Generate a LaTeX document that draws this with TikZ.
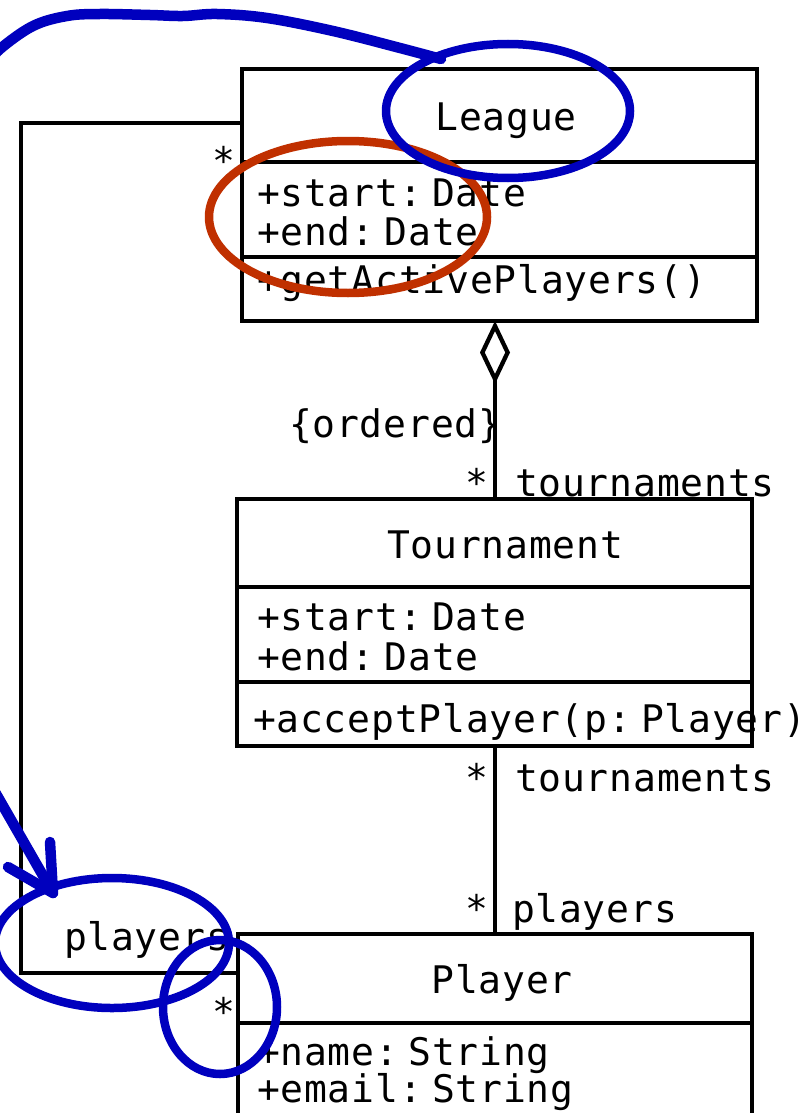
\documentclass[tikz,border=0pt]{standalone}
\usepackage{fontspec}
\usetikzlibrary{arrows.meta}
\newfontfamily\umlfont[LetterSpace=2.1,WordSpace=0.1]{DejaVu Sans Mono}
\definecolor{penblue}{RGB}{0,0,190}
\definecolor{penred}{RGB}{192,48,0}

\begin{document}
\begin{tikzpicture}[x=1pt,y=-1pt,
  part/.style={draw=black, line width=4.3pt, anchor=north west, inner sep=0pt, outer sep=0pt},
  txt/.style={inner sep=0pt, outer sep=0pt, font={\umlfont\fontsize{38}{44}\selectfont}},
  assoc/.style={draw=black, line width=4.3pt},
  ink/.style={line width=8.5pt, line cap=round, line join=round},
  stroke/.style={line width=10.5pt, line cap=round, line join=round},
]
\useasboundingbox (0,0) rectangle (805,1113);
\clip (0,0) rectangle (805,1113);
\fill[white] (0,0) rectangle (805,1113);

% ---- class League ----
\node[part, minimum width=515pt, minimum height=93pt] (leagueT) at (242,69) {};
\node[part, minimum width=515pt, minimum height=95pt] (leagueA) at (242,162) {};
\node[part, minimum width=515pt, minimum height=64pt] (leagueO) at (242,257) {};
\node[txt, anchor=base] (leagueName) at (506,131) {League};
\node[txt, anchor=base west] (leagueStart) at (257,206) {+start: Date};
\node[txt, anchor=base west] (leagueEnd) at (257,245) {+end: Date};
\node[txt, anchor=base west] (leagueOp) at (257,293) {+getActivePlayers()};

% ---- class Tournament ----
\node[part, minimum width=515pt, minimum height=88pt] (tourT) at (237,499) {};
\node[part, minimum width=515pt, minimum height=95pt] (tourA) at (237,587) {};
\node[part, minimum width=515pt, minimum height=64pt] (tourO) at (237,682) {};
\node[txt, anchor=base] (tourName) at (505,558) {Tournament};
\node[txt, anchor=base west] (tourStart) at (257,630) {+start: Date};
\node[txt, anchor=base west] (tourEnd) at (257,670) {+end: Date};
\node[txt, anchor=base west] (tourOp) at (253,732) {+acceptPlayer(p: Player)};

% ---- class Player ----
\node[part, minimum width=514pt, minimum height=89pt] (playerT) at (238,934) {};
\node[part, minimum width=514pt, minimum height=130pt] (playerA) at (238,1023) {};
\node[txt, anchor=base] (playerName) at (502,993) {Player};
\node[txt, anchor=base west] (playerNameAttr) at (257,1065) {+name: String};
\node[txt, anchor=base west] (playerEmail) at (257,1102) {+email: String};

% ---- associations ----
\coordinate (selfTop) at (21,123);
\coordinate (selfBot) at (21,973);
\coordinate (axis) at (495,0);
\draw[assoc] (leagueT.west |- selfTop) -- (selfTop) -- (selfBot) -- (playerT.west |- selfBot);
\draw[assoc, {Diamond[open,length=63pt,width=30pt]}-] (leagueO.south -| axis) -- (tourT.north -| axis);
\draw[assoc] (tourO.south -| axis) -- (playerT.north -| axis);

% ---- association ends ----
\node[txt, anchor=base west] (ordered) at (289,437) {\{ordered\}};
\node[txt, anchor=base] (multA) at (477,496) {*};
\node[txt, anchor=base west] (roleA) at (515,496) {tournaments};
\node[txt, anchor=base] (multB) at (477,791) {*};
\node[txt, anchor=base west] (roleB) at (515,791) {tournaments};
\node[txt, anchor=base] (multC) at (477,922) {*};
\node[txt, anchor=base west] (roleC) at (512,922) {players};
\node[txt, anchor=base] (multD) at (224,174) {*};
\node[txt, anchor=base west] (roleD) at (64,950) {players};
\node[txt, anchor=base] (multE) at (224,1025) {*};

% ---- pen marks ----
\draw[penred, ink] (348,217) ellipse [x radius=139pt, y radius=76pt];
\draw[penblue, ink] (508,111) ellipse [x radius=122pt, y radius=67pt];
\draw[penblue, ink] (112,943) ellipse [x radius=117pt, y radius=65pt];
\draw[penblue, ink] (220,1007) ellipse [x radius=57pt, y radius=67pt];
\draw[penblue, stroke]
  plot[smooth, tension=0.6] coordinates {(-12,64) (0,49) (33,26) (67,16) (100,14) (150,15) (183,16) (217,14) (267,18) (333,31) (400,48) (441,59)};
\coordinate (tip) at (53,893);
\draw[penblue, stroke] (-9,785) -- (tip);
\draw[penblue, stroke] (50,842) -- (tip) -- (8,867);
\end{tikzpicture}
\end{document}
